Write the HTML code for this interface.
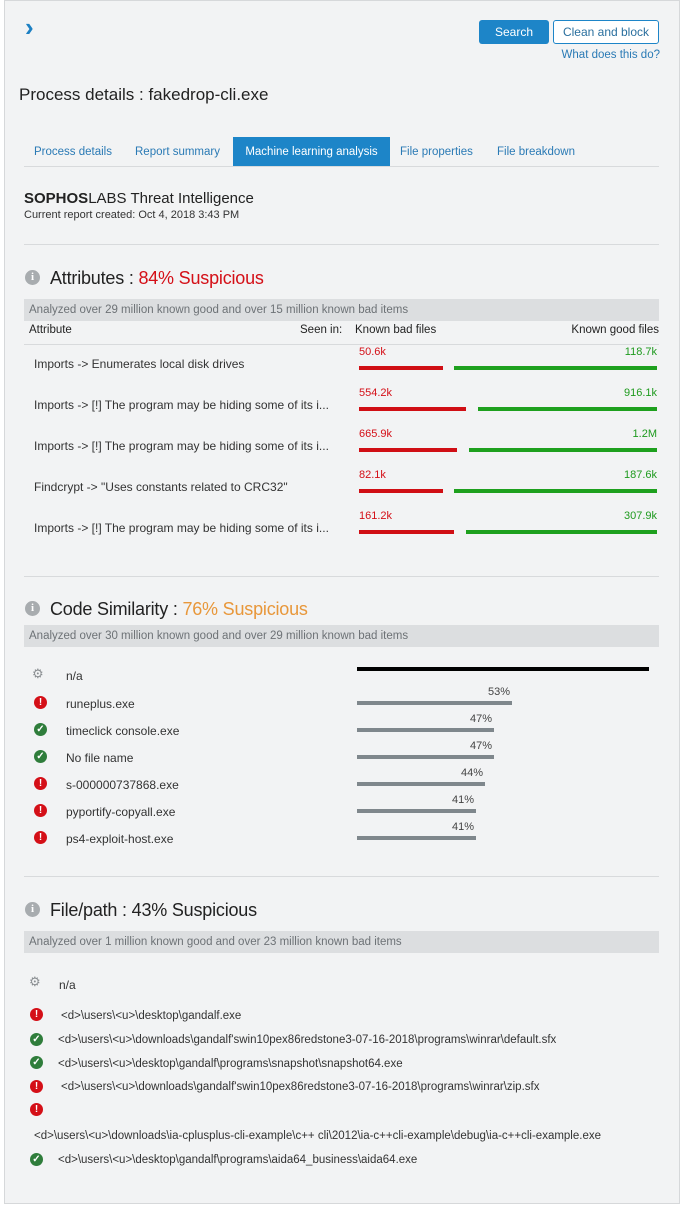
<!DOCTYPE html>
<html><head><meta charset="utf-8"><style>
*{margin:0;padding:0;box-sizing:border-box}
body{width:681px;height:1205px;background:#fff;font-family:"Liberation Sans",sans-serif;position:relative;overflow:hidden;color:#333}
.frame{position:absolute;left:4px;top:0;width:676px;height:1204px;background:#f2f3f4;border:1px solid #d6d8da}
.a{position:absolute;white-space:nowrap}
.hr{position:absolute;left:24px;width:635px;height:1px;background:#d8dadc}
.band{position:absolute;left:24px;width:635px;height:22px;background:#dcdee0;font-size:11.5px;color:#6d7276;padding:5px 5px}
.rb{position:absolute;height:4px;background:#d00e14}
.gb{position:absolute;height:4px;background:#1ea01e}
.sb{position:absolute;height:4px;background:#7f878c;left:357px}
.pct{position:absolute;font-size:11px;color:#444}
.ico{position:absolute;width:13px;height:13px;border-radius:50%;color:#fff;font-size:10px;font-weight:bold;text-align:center;line-height:13px}
.bad{background:#d40f17}.ok{background:#2f7d3b}
.info{position:absolute;width:15px;height:15px;border-radius:50%;background:#a8acaf;color:#fff;font-size:11px;font-weight:bold;text-align:center;line-height:15px;font-family:"Liberation Serif",serif}
.h{font-size:18px;color:#222;letter-spacing:-0.2px}
.t12{font-size:12px;color:#333}
</style></head><body>
<div class="frame"></div>
<div class="a" style="left:25px;top:12px;font-size:26px;font-weight:bold;color:#1d80c3">›</div>
<div class="a" style="left:479px;top:20px;width:70px;height:24px;background:#1d85c8;border-radius:3px;color:#fff;font-size:12px;text-align:center;line-height:24px">Search</div>
<div class="a" style="left:553px;top:20px;width:106px;height:24px;background:#fff;border:1px solid #1d85c8;border-radius:3px;color:#2a6f9e;font-size:12px;text-align:center;line-height:22px">Clean and block</div>
<div class="a" style="right:21px;top:49px;font-size:11.5px;color:#2a7ab5">What does this do?</div>
<div class="a" style="left:19px;top:85px;font-size:17px;color:#222">Process details : fakedrop-cli.exe</div>
<div class="a" style="left:34px;top:146px;font-size:11.5px;color:#2a7ab5">Process details</div>
<div class="a" style="left:135px;top:146px;font-size:11.5px;color:#2a7ab5">Report summary</div>
<div class="a" style="left:233px;top:137px;width:157px;height:29px;background:#1d85c8;color:#fff;font-size:11.5px;line-height:30px;text-align:center">Machine learning analysis</div>
<div class="a" style="left:400px;top:146px;font-size:11.5px;color:#2a7ab5">File properties</div>
<div class="a" style="left:497px;top:146px;font-size:11.5px;color:#2a7ab5">File breakdown</div>
<div class="hr" style="top:166px"></div>
<div class="a" style="left:24px;top:190px;font-size:15px;color:#222"><b>SOPHOS</b>LABS Threat Intelligence</div>
<div class="a" style="left:24px;top:209px;font-size:11px;color:#333">Current report created: Oct 4, 2018 3:43 PM</div>
<div class="hr" style="top:244px"></div>

<div class="info" style="left:25px;top:270px">i</div>
<div class="a h" style="left:50px;top:268px">Attributes : <span style="color:#d40f17">84% Suspicious</span></div>
<div class="band" style="top:299px">Analyzed over 29 million known good and over 15 million known bad items</div>
<div class="a" style="left:29px;top:324px;font-size:11.5px;color:#222">Attribute</div>
<div class="a" style="left:300px;top:324px;font-size:11.5px;color:#222">Seen in:</div>
<div class="a" style="left:355px;top:324px;font-size:11.5px;color:#222">Known bad files</div>
<div class="a" style="right:22px;top:324px;font-size:11.5px;color:#222">Known good files</div>
<div class="hr" style="top:344px"></div>

<div class="a t12" style="left:34px;top:357px">Imports -&gt; Enumerates local disk drives</div>
<div class="a" style="left:359px;top:346px;font-size:11px;color:#d40f17">50.6k</div>
<div class="a" style="right:24px;top:346px;font-size:11px;color:#1e9a1e">118.7k</div>
<div class="rb" style="left:359px;width:84px;top:366px"></div><div class="gb" style="left:454px;width:203px;top:366px"></div>

<div class="a t12" style="left:34px;top:398px">Imports -&gt; [!] The program may be hiding some of its i...</div>
<div class="a" style="left:359px;top:387px;font-size:11px;color:#d40f17">554.2k</div>
<div class="a" style="right:24px;top:387px;font-size:11px;color:#1e9a1e">916.1k</div>
<div class="rb" style="left:359px;width:107px;top:407px"></div><div class="gb" style="left:478px;width:179px;top:407px"></div>

<div class="a t12" style="left:34px;top:439px">Imports -&gt; [!] The program may be hiding some of its i...</div>
<div class="a" style="left:359px;top:428px;font-size:11px;color:#d40f17">665.9k</div>
<div class="a" style="right:24px;top:428px;font-size:11px;color:#1e9a1e">1.2M</div>
<div class="rb" style="left:359px;width:98px;top:448px"></div><div class="gb" style="left:469px;width:188px;top:448px"></div>

<div class="a t12" style="left:34px;top:480px">Findcrypt -&gt; "Uses constants related to CRC32"</div>
<div class="a" style="left:359px;top:469px;font-size:11px;color:#d40f17">82.1k</div>
<div class="a" style="right:24px;top:469px;font-size:11px;color:#1e9a1e">187.6k</div>
<div class="rb" style="left:359px;width:84px;top:489px"></div><div class="gb" style="left:454px;width:203px;top:489px"></div>

<div class="a t12" style="left:34px;top:521px">Imports -&gt; [!] The program may be hiding some of its i...</div>
<div class="a" style="left:359px;top:510px;font-size:11px;color:#d40f17">161.2k</div>
<div class="a" style="right:24px;top:510px;font-size:11px;color:#1e9a1e">307.9k</div>
<div class="rb" style="left:359px;width:95px;top:530px"></div><div class="gb" style="left:466px;width:191px;top:530px"></div>

<div class="hr" style="top:576px"></div>

<div class="info" style="left:25px;top:601px">i</div>
<div class="a h" style="left:50px;top:599px">Code Similarity : <span style="color:#e8973a">76% Suspicious</span></div>
<div class="band" style="top:625px">Analyzed over 30 million known good and over 29 million known bad items</div>
<div class="a" style="left:32px;top:666px;font-size:13px;color:#8a8e91">⚙</div>
<div class="a t12" style="left:66px;top:669px">n/a</div>
<div class="a" style="left:357px;top:667px;width:292px;height:4px;background:#000"></div>

<div class="ico bad" style="left:34px;top:696px">!</div><div class="a t12" style="left:66px;top:697px">runeplus.exe</div>
<div class="pct" style="left:488px;top:686px">53%</div><div class="sb" style="width:155px;top:701px"></div>
<div class="ico ok" style="left:34px;top:723px">✓</div><div class="a t12" style="left:66px;top:724px">timeclick console.exe</div>
<div class="pct" style="left:470px;top:713px">47%</div><div class="sb" style="width:137px;top:728px"></div>
<div class="ico ok" style="left:34px;top:750px">✓</div><div class="a t12" style="left:66px;top:751px">No file name</div>
<div class="pct" style="left:470px;top:740px">47%</div><div class="sb" style="width:137px;top:755px"></div>
<div class="ico bad" style="left:34px;top:777px">!</div><div class="a t12" style="left:66px;top:778px">s-000000737868.exe</div>
<div class="pct" style="left:461px;top:767px">44%</div><div class="sb" style="width:128px;top:782px"></div>
<div class="ico bad" style="left:34px;top:804px">!</div><div class="a t12" style="left:66px;top:805px">pyportify-copyall.exe</div>
<div class="pct" style="left:452px;top:794px">41%</div><div class="sb" style="width:119px;top:809px"></div>
<div class="ico bad" style="left:34px;top:831px">!</div><div class="a t12" style="left:66px;top:832px">ps4-exploit-host.exe</div>
<div class="pct" style="left:452px;top:821px">41%</div><div class="sb" style="width:119px;top:836px"></div>

<div class="hr" style="top:876px"></div>

<div class="info" style="left:25px;top:902px">i</div>
<div class="a h" style="left:50px;top:900px">File/path : 43% Suspicious</div>
<div class="band" style="top:931px">Analyzed over 1 million known good and over 23 million known bad items</div>
<div class="a" style="left:29px;top:974px;font-size:13px;color:#8a8e91">⚙</div>
<div class="a t12" style="left:59px;top:978px">n/a</div>
<div class="ico bad" style="left:30px;top:1008px">!</div><div class="a t12" style="left:61px;top:1010px;font-size:11.5px">&lt;d&gt;\users\&lt;u&gt;\desktop\gandalf.exe</div>
<div class="ico ok" style="left:30px;top:1033px">✓</div><div class="a t12" style="left:58px;top:1034px;font-size:11.5px">&lt;d&gt;\users\&lt;u&gt;\downloads\gandalf'swin10pex86redstone3-07-16-2018\programs\winrar\default.sfx</div>
<div class="ico ok" style="left:30px;top:1056px">✓</div><div class="a t12" style="left:58px;top:1058px;font-size:11.5px">&lt;d&gt;\users\&lt;u&gt;\desktop\gandalf\programs\snapshot\snapshot64.exe</div>
<div class="ico bad" style="left:30px;top:1080px">!</div><div class="a t12" style="left:61px;top:1081px;font-size:11.5px">&lt;d&gt;\users\&lt;u&gt;\downloads\gandalf'swin10pex86redstone3-07-16-2018\programs\winrar\zip.sfx</div>
<div class="ico bad" style="left:30px;top:1103px">!</div>
<div class="a t12" style="left:34px;top:1130px;font-size:11.5px">&lt;d&gt;\users\&lt;u&gt;\downloads\ia-cplusplus-cli-example\c++ cli\2012\ia-c++cli-example\debug\ia-c++cli-example.exe</div>
<div class="ico ok" style="left:30px;top:1153px">✓</div><div class="a t12" style="left:58px;top:1154px;font-size:11.5px">&lt;d&gt;\users\&lt;u&gt;\desktop\gandalf\programs\aida64_business\aida64.exe</div>
</body></html>
